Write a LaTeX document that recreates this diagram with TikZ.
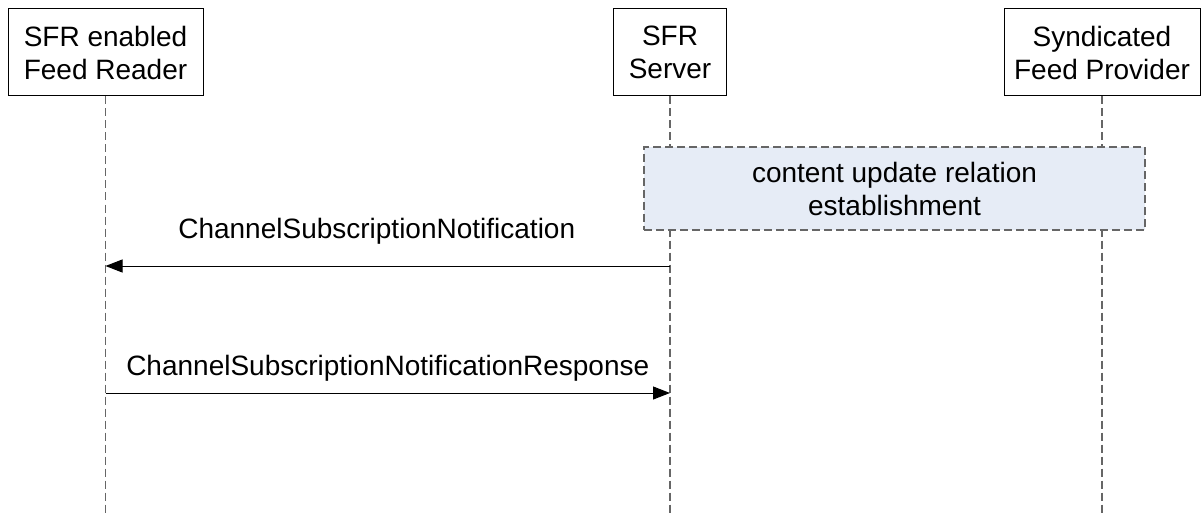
\documentclass[tikz,border=0pt]{standalone}
\usepackage{fontspec}
\setmainfont{Liberation Sans}
\usetikzlibrary{arrows.meta,positioning,calc}
\definecolor{phasefill}{RGB}{230,236,246}

\begin{document}
\begin{tikzpicture}[x=1pt, y=-1pt, font=\fontsize{28}{33}\selectfont]
\tikzstyle{actor}=[draw=black, line width=1pt, fill=white, align=center, minimum height=87pt, inner sep=0pt]
\tikzstyle{life}=[draw=black!60, line width=1.2pt, dash pattern=on 8pt off 4pt]
\tikzstyle{msg}=[->, >={Triangle[length=17pt,width=13pt]}, line width=1pt, black]
\tikzstyle{phase}=[draw=black!60, line width=1.2pt, dash pattern=on 8pt off 4pt, fill=phasefill, align=center, minimum width=501pt, minimum height=83pt]
\useasboundingbox (0,0) rectangle (1201,513);

\node[actor, minimum width=195pt] (R) at (105.5,52.5)  {SFR enabled\\Feed Reader};
\node[actor, minimum width=113pt] (S) at (670,52.5)    {SFR\\Server};
\node[actor, minimum width=196pt] (P) at (1102,52.5)   {Syndicated\\Feed Provider};

% lifelines
\coordinate (Rend) at (R.south |- 0,513);
\coordinate (Send) at (S.south |- 0,513);
\coordinate (Pend) at (P.south |- 0,513);
\draw[life] (R.south) -- (Rend);
\draw[life] (S.south) -- (Send);
\draw[life] (P.south) -- (Pend);

\node[phase] (U) at (894.5,188.5) {content update relation\\establishment};

% messages
\coordinate (R1) at (R.south |- 0,266);
\coordinate (S1) at (S.south |- 0,266);
\coordinate (R2) at (R.south |- 0,393);
\coordinate (S2) at (S.south |- 0,393);

\path[msg]
(S1) edge node[above=18pt, xshift=-11pt] {ChannelSubscriptionNotification}          (R1)
(R2) edge node[above=8pt]                {ChannelSubscriptionNotificationResponse}  (S2);
\end{tikzpicture}
\end{document}
